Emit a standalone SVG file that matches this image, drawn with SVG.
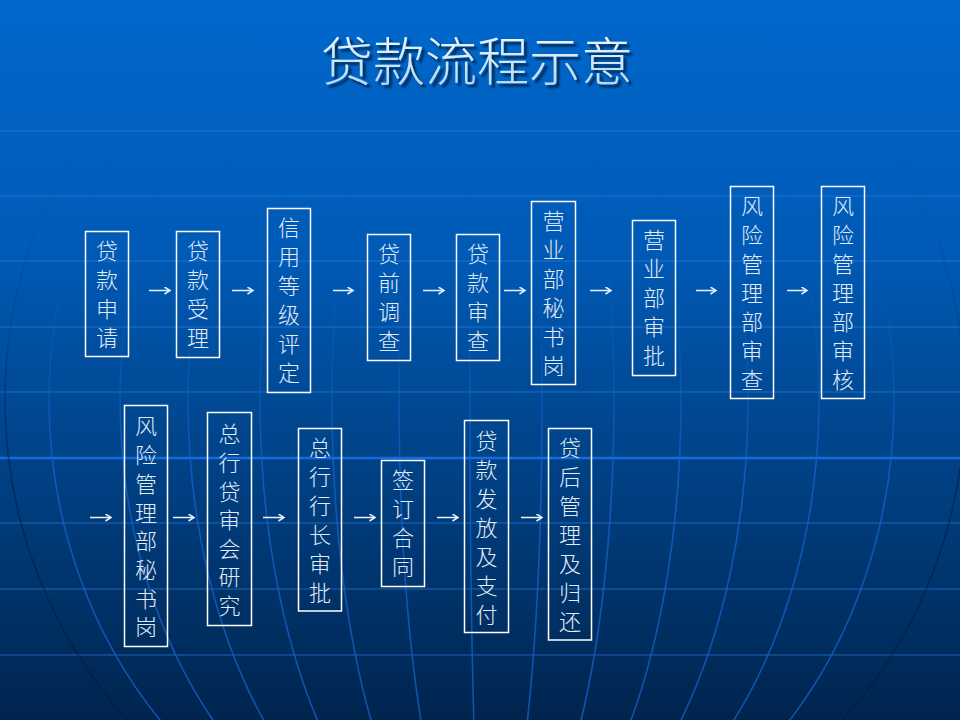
<svg xmlns="http://www.w3.org/2000/svg" width="960" height="720" viewBox="0 0 960 720">
<defs>
<linearGradient id="bg" x1="0" y1="0" x2="0" y2="1">
<stop offset="0" stop-color="#0068cc"/>
<stop offset="0.35" stop-color="#005ab6"/>
<stop offset="0.62" stop-color="#00448a"/>
<stop offset="1" stop-color="#00244e"/>
</linearGradient>
<linearGradient id="titleFill" x1="0" y1="0" x2="0" y2="1">
<stop offset="0" stop-color="#ffffff"/>
<stop offset="1" stop-color="#a6d2f4"/>
</linearGradient>
<linearGradient id="fadeG" gradientUnits="userSpaceOnUse" x1="0" y1="0" x2="0" y2="720">
<stop offset="0.22" stop-color="#fff" stop-opacity="0"/>
<stop offset="0.45" stop-color="#fff" stop-opacity="0.3"/>
<stop offset="0.64" stop-color="#fff" stop-opacity="1"/>
</linearGradient>
<mask id="fade" maskUnits="userSpaceOnUse" x="0" y="0" width="960" height="720">
<rect x="0" y="0" width="960" height="720" fill="url(#fadeG)"/>
</mask>
<filter id="shadow" x="-10%" y="-30%" width="120%" height="160%">
<feDropShadow dx="3" dy="3" stdDeviation="1.2" flood-color="#001a40" flood-opacity="0.9"/>
</filter>
<marker id="ah" markerUnits="userSpaceOnUse" markerWidth="10" markerHeight="10" refX="6" refY="4" orient="auto">
<path d="M0.5,0.5 L6,4 L0.5,7.5" fill="none" stroke="#e8f0fc" stroke-width="1.5"/>
</marker>
</defs>
<style>
.box{fill:none;stroke:#ffffff;stroke-width:1.5}
.lbl{font-family:"Noto Sans CJK SC","Noto Sans CJK TC",sans-serif;font-weight:300;font-size:22px;fill:#e2ebf7;text-anchor:middle}
.title{font-family:"Noto Sans CJK SC","Noto Sans CJK TC",sans-serif;font-weight:300;font-size:52px;fill:url(#titleFill);text-anchor:middle}
.hl{stroke:#2a7fe0;stroke-width:2;stroke-opacity:0.33}
.mer{fill:none;stroke:#1662cc;stroke-width:1.6;stroke-opacity:0.75}
.sil{fill:none;stroke:#001a3c;stroke-width:1.6;stroke-opacity:0.5}
.arr{stroke:#e8f0fc;stroke-width:1.5;marker-end:url(#ah)}
</style>
<g id="background">
<rect x="0" y="0" width="960" height="720" fill="url(#bg)"/>
<g id="grid-h">
<line class="hl" x1="0" y1="131" x2="960" y2="131"/>
<line class="hl" x1="0" y1="196" x2="960" y2="196"/>
<line class="hl" x1="0" y1="261" x2="960" y2="261"/>
<line class="hl" x1="0" y1="327" x2="960" y2="327"/>
<line class="hl" x1="0" y1="392" x2="960" y2="392"/>
<line x1="0" y1="458" x2="960" y2="458" stroke="#1670e0" stroke-width="2.5" stroke-opacity="0.95"/>
<line class="hl" x1="0" y1="523" x2="960" y2="523"/>
<line class="hl" x1="0" y1="589" x2="960" y2="589"/>
<line class="hl" x1="0" y1="655" x2="960" y2="655"/>
</g>
<g id="globe" mask="url(#fade)">
<path class="mer" d="M485,-80 A436,480 0 0 0 485,880"/>
<path class="mer" d="M485,-80 A365,480 0 0 0 485,880"/>
<path class="mer" d="M485,-80 A297,480 0 0 0 485,880"/>
<path class="mer" d="M485,-80 A225,480 0 0 0 485,880"/>
<path class="mer" d="M485,-80 A153,480 0 0 0 485,880"/>
<path class="mer" d="M485,-80 A86,480 0 0 0 485,880"/>
<path class="mer" d="M485,-80 A15,480 0 0 0 485,880"/>
<path class="mer" d="M485,-80 A57,480 0 0 1 485,880"/>
<path class="mer" d="M485,-80 A129,480 0 0 1 485,880"/>
<path class="mer" d="M485,-80 A196,480 0 0 1 485,880"/>
<path class="mer" d="M485,-80 A263,480 0 0 1 485,880"/>
<path class="mer" d="M485,-80 A334,480 0 0 1 485,880"/>
<path class="mer" d="M485,-80 A409,480 0 0 1 485,880"/>
<path class="sil" d="M485,-80 A480,480 0 0 1 485,880"/>
<path class="sil" d="M485,-80 A480,480 0 0 0 485,880"/>
</g>
</g>
<text id="title" class="title" x="477" y="81" filter="url(#shadow)">贷款流程示意</text>
<g id="connectors">
<line class="arr" x1="149" y1="290.5" x2="170" y2="290.5"/>
<line class="arr" x1="232" y1="290.5" x2="253" y2="290.5"/>
<line class="arr" x1="333" y1="290.5" x2="353" y2="290.5"/>
<line class="arr" x1="423" y1="290.5" x2="444" y2="290.5"/>
<line class="arr" x1="504" y1="290.5" x2="525" y2="290.5"/>
<line class="arr" x1="590" y1="290.5" x2="611" y2="290.5"/>
<line class="arr" x1="696" y1="290.5" x2="716" y2="290.5"/>
<line class="arr" x1="787" y1="290.5" x2="807" y2="290.5"/>
<line class="arr" x1="90" y1="517.5" x2="111" y2="517.5"/>
<line class="arr" x1="173" y1="517.5" x2="194" y2="517.5"/>
<line class="arr" x1="263" y1="517.5" x2="284" y2="517.5"/>
<line class="arr" x1="354" y1="517.5" x2="375" y2="517.5"/>
<line class="arr" x1="437" y1="517.5" x2="458" y2="517.5"/>
<line class="arr" x1="521" y1="517.5" x2="542" y2="517.5"/>
</g>
<g id="n1"><rect class="box" x="85.5" y="231.5" width="43" height="125"/>
<text class="lbl"><tspan x="107" y="259">贷</tspan><tspan x="107" y="288">款</tspan><tspan x="107" y="317">申</tspan><tspan x="107" y="346">请</tspan></text></g>
<g id="n2"><rect class="box" x="176.5" y="231.5" width="43" height="126"/>
<text class="lbl"><tspan x="198" y="259.4">贷</tspan><tspan x="198" y="288.4">款</tspan><tspan x="198" y="317.4">受</tspan><tspan x="198" y="346.4">理</tspan></text></g>
<g id="n3"><rect class="box" x="267.5" y="208.5" width="43" height="184"/>
<text class="lbl"><tspan x="289" y="236.4">信</tspan><tspan x="289" y="265.4">用</tspan><tspan x="289" y="294.4">等</tspan><tspan x="289" y="323.4">级</tspan><tspan x="289" y="352.4">评</tspan><tspan x="289" y="381.4">定</tspan></text></g>
<g id="n4"><rect class="box" x="367.5" y="234.5" width="43" height="126"/>
<text class="lbl"><tspan x="389" y="262.4">贷</tspan><tspan x="389" y="291.4">前</tspan><tspan x="389" y="320.4">调</tspan><tspan x="389" y="349.4">查</tspan></text></g>
<g id="n5"><rect class="box" x="456.5" y="234.5" width="43" height="126"/>
<text class="lbl"><tspan x="478" y="262.4">贷</tspan><tspan x="478" y="291.4">款</tspan><tspan x="478" y="320.4">审</tspan><tspan x="478" y="349.4">查</tspan></text></g>
<g id="n6"><rect class="box" x="531.5" y="201.5" width="44" height="183"/>
<text class="lbl"><tspan x="553.5" y="228.9">营</tspan><tspan x="553.5" y="257.9">业</tspan><tspan x="553.5" y="286.9">部</tspan><tspan x="553.5" y="315.9">秘</tspan><tspan x="553.5" y="344.9">书</tspan><tspan x="553.5" y="373.9">岗</tspan></text></g>
<g id="n7"><rect class="box" x="632.5" y="220.5" width="43" height="155"/>
<text class="lbl"><tspan x="654" y="248.4">营</tspan><tspan x="654" y="277.4">业</tspan><tspan x="654" y="306.4">部</tspan><tspan x="654" y="335.4">审</tspan><tspan x="654" y="364.4">批</tspan></text></g>
<g id="n8"><rect class="box" x="730.5" y="186.5" width="43" height="212"/>
<text class="lbl"><tspan x="752" y="214">风</tspan><tspan x="752" y="243">险</tspan><tspan x="752" y="272">管</tspan><tspan x="752" y="301">理</tspan><tspan x="752" y="330">部</tspan><tspan x="752" y="359">审</tspan><tspan x="752" y="388">查</tspan></text></g>
<g id="n9"><rect class="box" x="821.5" y="186.5" width="43" height="212"/>
<text class="lbl"><tspan x="843" y="214">风</tspan><tspan x="843" y="243">险</tspan><tspan x="843" y="272">管</tspan><tspan x="843" y="301">理</tspan><tspan x="843" y="330">部</tspan><tspan x="843" y="359">审</tspan><tspan x="843" y="388">核</tspan></text></g>
<g id="n10"><rect class="box" x="124.5" y="405.5" width="43" height="241"/>
<text class="lbl"><tspan x="146" y="434.4">风</tspan><tspan x="146" y="463.1">险</tspan><tspan x="146" y="491.8">管</tspan><tspan x="146" y="520.5">理</tspan><tspan x="146" y="549.2">部</tspan><tspan x="146" y="577.9">秘</tspan><tspan x="146" y="606.6">书</tspan><tspan x="146" y="635.3">岗</tspan></text></g>
<g id="n11"><rect class="box" x="207.5" y="412.5" width="44" height="213"/>
<text class="lbl"><tspan x="229.5" y="442.4">总</tspan><tspan x="229.5" y="471">行</tspan><tspan x="229.5" y="499.6">贷</tspan><tspan x="229.5" y="528.2">审</tspan><tspan x="229.5" y="556.8">会</tspan><tspan x="229.5" y="585.4">研</tspan><tspan x="229.5" y="614">究</tspan></text></g>
<g id="n12"><rect class="box" x="298.5" y="428.5" width="43" height="182.5"/>
<text class="lbl"><tspan x="320" y="456">总</tspan><tspan x="320" y="485">行</tspan><tspan x="320" y="514">行</tspan><tspan x="320" y="543">长</tspan><tspan x="320" y="572">审</tspan><tspan x="320" y="601">批</tspan></text></g>
<g id="n13"><rect class="box" x="381.5" y="460.5" width="43" height="126"/>
<text class="lbl"><tspan x="403" y="488.4">签</tspan><tspan x="403" y="517.4">订</tspan><tspan x="403" y="546.4">合</tspan><tspan x="403" y="575.4">同</tspan></text></g>
<g id="n14"><rect class="box" x="464.5" y="420.5" width="44" height="212"/>
<text class="lbl"><tspan x="486.5" y="449">贷</tspan><tspan x="486.5" y="478">款</tspan><tspan x="486.5" y="507">发</tspan><tspan x="486.5" y="536">放</tspan><tspan x="486.5" y="565">及</tspan><tspan x="486.5" y="594">支</tspan><tspan x="486.5" y="623">付</tspan></text></g>
<g id="n15"><rect class="box" x="548.5" y="428.5" width="43" height="211.5"/>
<text class="lbl"><tspan x="570" y="456.4">贷</tspan><tspan x="570" y="485.4">后</tspan><tspan x="570" y="514.4">管</tspan><tspan x="570" y="543.4">理</tspan><tspan x="570" y="572.4">及</tspan><tspan x="570" y="601.4">归</tspan><tspan x="570" y="630.4">还</tspan></text></g>
</svg>
